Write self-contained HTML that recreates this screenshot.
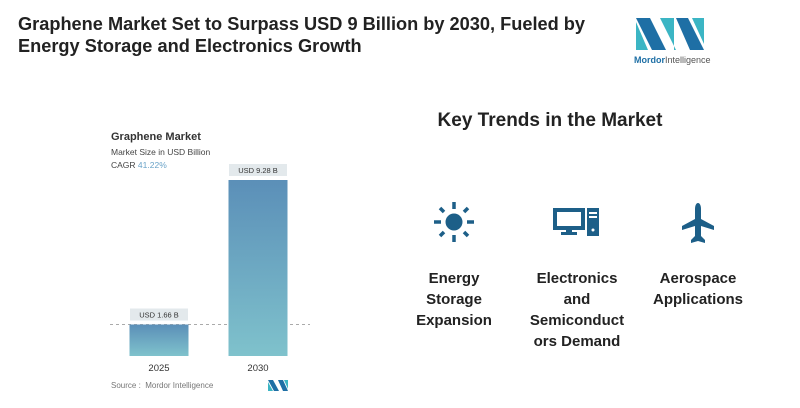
<!DOCTYPE html>
<html><head><meta charset="utf-8"><style>
body{margin:0;width:800px;height:408px;background:#fff;font-family:"Liberation Sans",sans-serif;overflow:hidden;position:relative}
.abs{position:absolute}
h1{position:absolute;left:18px;top:13px;margin:0;font-size:18.2px;line-height:22px;font-weight:bold;color:#222;width:620px}
.trend{position:absolute;width:120px;text-align:center;font-size:15px;font-weight:bold;line-height:21px;color:#222;top:268px}
</style></head><body>
<h1>Graphene Market Set to Surpass USD 9 Billion by 2030, Fueled by Energy Storage and Electronics Growth</h1>
<svg class="abs" style="left:630px;top:14px" width="90" height="55" viewBox="0 0 90 55">
<polygon points="6,4 20,4 36,36 22,36" fill="#1e6fa5"/><polygon points="6,8 6,36 18,36" fill="#3bb5c4"/>
<polygon points="30,4 44,4 44,36 46,36" fill="#3bb5c4"/><polygon points="46,4 58,4 74,36 60,36" fill="#1e6fa5"/><polygon points="62,4 74,4 74,30" fill="#3bb5c4"/>
<text x="4" y="49" font-size="9" fill="#1e6fa5" font-weight="bold" font-family="Liberation Sans">Mordor<tspan font-weight="normal" fill="#555">Intelligence</tspan></text>
</svg>
<div class="abs" style="left:111px;top:131px;font-size:11px;font-weight:bold;color:#333">Graphene Market</div>
<div class="abs" style="left:111px;top:147px;font-size:8.5px;color:#444">Market Size in USD Billion</div>
<div class="abs" style="left:111px;top:160px;font-size:8.5px;color:#444">CAGR <span style="color:#6aa3c8">41.22%</span></div>
<svg id="chart" class="abs" style="left:0;top:0" width="330" height="408"></svg>
<div class="abs" style="left:111px;top:381px;font-size:8px;color:#777">Source :&nbsp; Mordor Intelligence</div>
<svg class="abs" style="left:268px;top:380px" width="20" height="11"><polygon points="0,0 5,0 11,11 6,11" fill="#1e6fa5"/><polygon points="0,2 0,11 5,11" fill="#3bb5c4"/><polygon points="10,0 15,0 20,11 15,11" fill="#1e6fa5"/><polygon points="16,0 20,0 20,9" fill="#3bb5c4"/></svg>
<div class="abs" style="left:410px;top:110px;width:280px;text-align:center;font-size:19px;font-weight:bold;color:#222">Key Trends in the Market</div>
<svg class="abs" style="left:430px;top:198px" width="48" height="48" viewBox="0 0 48 48"><circle cx="24" cy="24" r="8.5" fill="#1d5f88"/><g stroke="#1d5f88" stroke-width="3.5"><line x1="24" y1="4" x2="24" y2="11"/><line x1="24" y1="37" x2="24" y2="44"/><line x1="4" y1="24" x2="11" y2="24"/><line x1="37" y1="24" x2="44" y2="24"/><line x1="10" y1="10" x2="14" y2="14"/><line x1="34" y1="34" x2="38" y2="38"/><line x1="38" y1="10" x2="34" y2="14"/><line x1="10" y1="38" x2="14" y2="34"/></g></svg>
<svg class="abs" style="left:553px;top:207px" width="48" height="32" viewBox="0 0 48 32"><rect x="2" y="3" width="28" height="18" fill="none" stroke="#1d5f88" stroke-width="4"/><rect x="13" y="21" width="6" height="5" fill="#1d5f88"/><rect x="8" y="25" width="16" height="3" fill="#1d5f88"/><rect x="34" y="1" width="12" height="28" fill="#1d5f88"/><rect x="36" y="5" width="8" height="2" fill="#fff"/><rect x="36" y="9" width="8" height="2" fill="#fff"/><circle cx="40" cy="23" r="1.5" fill="#fff"/></svg>
<svg class="abs" style="left:680px;top:202px" width="36" height="42" viewBox="0 0 36 42"><path d="M18 1 C20 1 21 4 21 7 L21 17 L34 24 L34 28 L21 24 L21 34 L25 38 L25 41 L18 39 L11 41 L11 38 L15 34 L15 24 L2 28 L2 24 L15 17 L15 7 C15 4 16 1 18 1Z" fill="#1d5f88"/></svg>
<div class="trend" style="left:394px">Energy<br>Storage<br>Expansion</div>
<div class="trend" style="left:517px">Electronics<br>and<br>Semiconduct<br>ors Demand</div>
<div class="trend" style="left:638px">Aerospace<br>Applications</div>
<script>
const categories=["2025","2030"];
const values=[1.66,9.28];
const valueLabels=["USD 1.66 B","USD 9.28 B"];
const svg=document.getElementById('chart');
const NS="http://www.w3.org/2000/svg";
const baseY=356, pxPerUnit=176/9.28;
const xCenter=i=>159+i*99, barW=59;
const y=v=>baseY-v*pxPerUnit;
function mk(t,a){const e=document.createElementNS(NS,t);for(const k in a)e.setAttribute(k,a[k]);svg.appendChild(e);return e;}
const defs=mk('defs',{});
defs.innerHTML='<linearGradient id="g" x1="0" y1="0" x2="0" y2="1"><stop offset="0" stop-color="#5b8fb8"/><stop offset="1" stop-color="#7fc2cc"/></linearGradient>';
const dl=mk('line',{x1:110,x2:310,y1:y(values[0]),y2:y(values[0]),stroke:'#aaa','stroke-dasharray':'3,3','stroke-width':1});


categories.forEach((c,i)=>{
  const r=mk('rect',{x:xCenter(i)-barW/2,y:y(values[i]),width:barW,height:baseY-y(values[i]),fill:'url(#g)'});
  
  
  const lb=mk('rect',{x:xCenter(i)-29,y:y(values[i])-16,width:58,height:12,fill:'#e3e9ec'});
  
  
  const vt=mk('text',{x:xCenter(i),y:y(values[i])-7,'text-anchor':'middle','font-size':7.5,fill:'#333'});
  vt.textContent=valueLabels[i];
  
  
  const ct=mk('text',{x:xCenter(i),y:371,'text-anchor':'middle','font-size':9.5,fill:'#333'});
  ct.textContent=c;
  
  
});
</script>
</body></html>
